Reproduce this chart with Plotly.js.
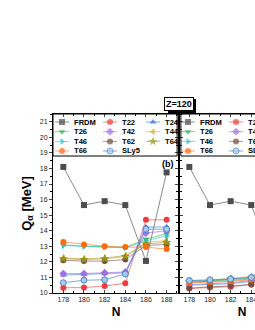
<!DOCTYPE html>
<html><head><meta charset="utf-8">
<script src="https://cdn.plot.ly/plotly-3.0.1.min.js"></script>
<style>html,body{margin:0;padding:0;overflow:hidden;background:#fff;width:255px;height:330px}</style>
</head><body><div id="chart"></div>
<script>
// ---------- data ----------
const N = [178, 180, 182, 184, 186, 188];
const names = ['FRDM','T22','T24','T26','T42','T44','T46','T62','T64','T66','SLy5'];
const xTicks = [178, 180, 182, 184, 186, 188];
const yTicks = [10,11,12,13,14,15,16,17,18,19,20,21];

// panel (b)
const frdmB = [18.1, 15.65, 15.9, 15.65, 12.06, 17.75];
const t22B  = [10.34, 10.35, 10.45, 10.63, 14.7, 14.7];
const t24B  = [11.15, 11.2, 11.25, 11.3, 14.24, 14.24];
const t26B  = [13.1, 13.0, 12.97, 12.93, 13.46, 13.8];
const t42B  = [11.25, 11.25, 11.3, 11.35, 13.85, 14.0];
const t44B  = [12.24, 12.2, 12.25, 12.4, 13.25, 13.37];
const t46B  = [13.05, 13.0, 12.95, 12.9, 13.35, 13.68];
const t62B  = [12.1, 12.05, 12.05, 12.15, 13.05, 13.12];
const t64B  = [12.2, 12.15, 12.2, 12.35, 13.15, 13.25];
const t66B  = [13.27, 13.12, 13.0, 12.95, 12.95, 12.82];
const sly5B = [10.66, 10.82, 10.85, 11.22, 14.1, 14.1];

// right panel (cut off)
const frdmC = [18.1, 15.65, 15.9, 15.65, 12.1, 17.7];
const t22C  = [10.3, 10.35, 10.4, 10.55, 11.6, 11.7];
const t24C  = [10.5, 10.55, 10.6, 10.75, 11.8, 11.9];
const t26C  = [10.7, 10.75, 10.8, 10.9, 11.7, 11.9];
const t42C  = [10.55, 10.6, 10.65, 10.8, 11.8, 11.9];
const t44C  = [10.75, 10.8, 10.95, 11.05, 11.6, 11.7];
const t46C  = [10.8, 10.8, 10.85, 10.95, 11.6, 11.8];
const t62C  = [10.3, 10.4, 10.45, 10.55, 11.5, 11.6];
const t64C  = [10.7, 10.75, 10.9, 11.0, 11.6, 11.7];
const t66C  = [10.65, 10.7, 10.75, 10.85, 11.3, 11.4];
const sly5C = [10.8, 10.85, 10.9, 11.0, 12.2, 12.4];

const seriesB = [frdmB,t22B,t24B,t26B,t42B,t44B,t46B,t62B,t64B,t66B,sly5B];
const seriesC = [frdmC,t22C,t24C,t26C,t42C,t44C,t46C,t62C,t64C,t66C,sly5C];

// ---------- styles ----------
const mColors = ['#4d4d4d','#f23a3a','#2b6fe3','#33b04a','#a36ee6','#d4a51c','#1fc3d2','#7a4b40','#94951a','#ff6a10','#a9c9ee'];
const lColors = ['#8c8c8c','rgba(242,58,58,0.6)','rgba(43,111,227,0.6)','rgba(51,176,74,0.6)','rgba(163,110,230,0.6)','rgba(212,165,28,0.6)','rgba(31,195,210,0.6)','rgba(122,75,64,0.6)','rgba(148,149,26,0.6)','rgba(255,106,16,0.6)','rgba(74,134,200,0.7)'];
const mLine = ['#4d4d4d','#f23a3a','#2b6fe3','#33b04a','#a36ee6','#d4a51c','#1fc3d2','#7a4b40','#94951a','#ff6a10','#4a86c8'];
const symbols = ['square','circle','triangle-up','triangle-down','diamond','triangle-left','triangle-right','circle','star','circle','circle'];
const FONT = 'Liberation Sans, Arial, sans-serif';

const traces = [];
function addPanel(series, xa, ya){
  series.forEach((ys, i) => {
    traces.push({
      x: N, y: ys, xaxis: xa, yaxis: ya, type: 'scatter', mode: 'lines+markers',
      name: names[i], showlegend: false, hoverinfo: 'skip',
      line: {color: lColors[i], width: 1},
      marker: {color: mColors[i], symbol: symbols[i], size: symbols[i]==='star'?7:6,
               line: {color: mLine[i], width: i===10?1:0}}
    });
  });
}
addPanel(seriesB, 'x', 'y');
addPanel(seriesC, 'x2', 'y2');

// manual legend (pixel-space hidden axes)
const colOff = [9, 57, 100];   // marker centre per column (px from panel left)
const rowOff = [8, 17.7, 27.4, 37]; // row centre (px from legend top)
const annotations = [];
function addLegend(xa, ya){
  names.forEach((nm, i) => {
    const c = i % 3, r = Math.floor(i / 3);
    traces.push({
      x: [colOff[c]-7, colOff[c], colOff[c]+7], y: [rowOff[r], rowOff[r], rowOff[r]],
      xaxis: xa, yaxis: ya, type: 'scatter', mode: 'lines+markers', showlegend: false, hoverinfo: 'skip',
      line: {color: lColors[i], width: 1},
      marker: {color: mColors[i], symbol: symbols[i], size: [0, symbols[i]==='star'?7:6, 0],
               line: {color: mLine[i], width: i===10?1:0}}
    });
    annotations.push({xref: xa, yref: ya, x: colOff[c]+10, y: rowOff[r], text: '<b>'+nm+'</b>',
      showarrow: false, xanchor: 'left', yanchor: 'middle', font: {family: FONT, size: 7.6, color: '#000'}});
  });
}
addLegend('x3', 'y3');
addLegend('x4', 'y4');

const xBase = {range: [177, 189.2], tickvals: xTicks, ticks: 'inside', ticklen: 3, tickwidth: 1,
  showline: true, linecolor: '#000', linewidth: 1, mirror: 'ticks', showgrid: false, zeroline: false,
  tickfont: {family: FONT, size: 7, color: '#222'},
  minor: {dtick: 1, ticks: 'inside', ticklen: 2, tickcolor: '#000'},
  title: {text: '<b>N</b>', font: {family: FONT, size: 12, color: '#000'}, standoff: 5}};
const yBase = {range: [10, 21.5], tickvals: yTicks, ticks: 'outside', ticklen: 3, tickwidth: 1,
  showline: true, linecolor: '#000', linewidth: 1, mirror: 'ticks', showgrid: false, zeroline: false,
  tickfont: {family: FONT, size: 7, color: '#222'},
  minor: {dtick: 0.5, ticks: 'outside', ticklen: 2, tickcolor: '#000'}};

annotations.push({xref: 'x domain', yref: 'y', x: 0.98, y: 18.3, text: '<b>(b)</b>', showarrow: false,
  xanchor: 'right', yanchor: 'middle', font: {family: FONT, size: 9, color: '#000'}});
annotations.push({xref: 'paper', yref: 'paper', x: 0.5, y: 1, yanchor: 'bottom', xanchor: 'center',
  yshift: 3, text: '<b>Z=120</b>', showarrow: false, bgcolor: '#fff', bordercolor: '#000',
  borderwidth: 1, borderpad: 1, font: {family: FONT, size: 9, color: '#000'}});

const shapes = [
  {type: 'rect', xref: 'x domain', yref: 'y', x0: 0, x1: 0.985, y0: 18.8, y1: 21.5, line: {color: '#000', width: 1}},
  {type: 'rect', xref: 'x2 domain', yref: 'y2', x0: 0.015, x1: 1, y0: 18.8, y1: 21.5, line: {color: '#000', width: 1}},
  // drop shadow of the Z=120 label box
  {type: 'rect', layer: 'below', xref: 'paper', yref: 'paper', xsizemode: 'pixel', ysizemode: 'pixel',
   xanchor: 0.5, yanchor: 1, x0: -11, x1: 17, y0: 1, y1: 15, fillcolor: '#000', line: {width: 0}}
];

const layout = {
  width: 320, height: 330, margin: {l: 53, r: 15, t: 114, b: 37},
  paper_bgcolor: '#fff', plot_bgcolor: 'rgba(0,0,0,0)', showlegend: false,
  font: {family: FONT},
  xaxis: Object.assign({}, xBase, {domain: [0, 0.5], anchor: 'y'}),
  xaxis2: Object.assign({}, xBase, {domain: [0.5, 1], anchor: 'y2'}),
  yaxis: Object.assign({}, yBase, {domain: [0, 1], anchor: 'x',
    title: {text: '<b>Q<sub>α</sub> [MeV]</b>', font: {family: FONT, size: 13, color: '#000'}, standoff: 5}}),
  yaxis2: Object.assign({}, yBase, {domain: [0, 1], anchor: 'x2', showticklabels: false}),
  xaxis3: {domain: [0, 0.5], range: [0, 126], visible: false, anchor: 'y3', fixedrange: true},
  yaxis3: {domain: [0.7654, 1], range: [42, 0], visible: false, anchor: 'x3', fixedrange: true},
  xaxis4: {domain: [0.5, 1], range: [0, 126], visible: false, anchor: 'y4', fixedrange: true},
  yaxis4: {domain: [0.7654, 1], range: [42, 0], visible: false, anchor: 'x4', fixedrange: true},
  annotations: annotations, shapes: shapes
};

Plotly.newPlot('chart', traces, layout, {staticPlot: true, displayModeBar: false});
</script></body></html>
